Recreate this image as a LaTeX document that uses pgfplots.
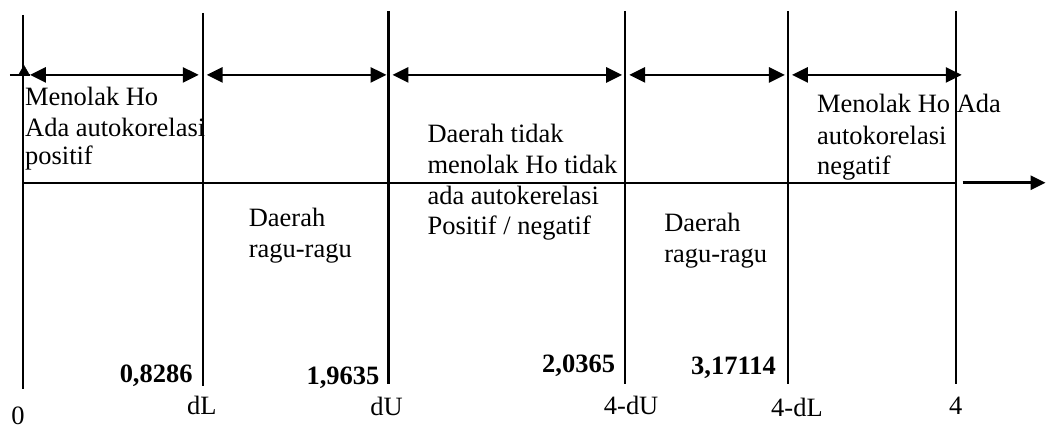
\documentclass[border=0pt]{standalone}
\usepackage{fontspec}
\setmainfont{Liberation Serif}
\usepackage{pgfplots}
\pgfplotsset{compat=1.18}
\usetikzlibrary{arrows.meta}
\begin{document}
\begin{tikzpicture}[
  txt/.style={anchor=base west, inner sep=0pt, font=\fontsize{26.5}{31}\selectfont},
  num/.style={anchor=base east, inner sep=0pt, font=\fontsize{26.5}{31}\selectfont\bfseries},
  lab/.style={anchor=base, inner sep=0pt, font=\fontsize{26.5}{31}\selectfont},
  dbl/.style={black, line width=2.8pt, {Triangle[length=16pt,width=15pt]}-{Triangle[length=16pt,width=15pt]}}]
\begin{axis}[
  scale only axis, width=1047pt, height=429pt,
  xmin=0, xmax=1047, ymin=0, ymax=429, y dir=reverse,
  hide axis, clip=false]
\addplot[draw=none] coordinates {(0,0) (1047,429)};
% vertical boundary lines
\addplot[black, line width=2.2pt] coordinates {(23,15) (23,390)};
\addplot[black, line width=2.2pt] coordinates {(203,13) (203,387)};
\addplot[black, line width=2.2pt] coordinates {(389,11) (389,385)};
\addplot[black, line width=2.2pt] coordinates {(626,11) (626,385)};
\addplot[black, line width=2.2pt] coordinates {(789,11) (789,385)};
\addplot[black, line width=2.2pt] coordinates {(957,11) (957,385)};
% horizontal axis line
\addplot[black, line width=2.4pt] coordinates {(23,183) (957,183)};
\addplot[black, line width=2.8pt, -{Triangle[length=15pt,width=14pt]}] coordinates {(964,183) (1047,183)};
% double arrows
\addplot[black, line width=2.8pt] coordinates {(10,75) (30,75)};
\addplot[dbl] coordinates {(30,75) (199,75)};
\addplot[dbl] coordinates {(207,75) (387,75)};
\addplot[dbl] coordinates {(393,75) (623,75)};
\addplot[dbl] coordinates {(630,75) (786,75)};
\addplot[dbl] coordinates {(793,75) (963,75)};
\addplot[black, only marks, mark=triangle*, mark size=6.5pt] coordinates {(24,72)};
% region texts (one node per line, base = baseline)
\node[txt] at (axis cs:25,106) {Menolak Ho};
\node[txt] at (axis cs:25,137) {Ada autokorelasi};
\node[txt] at (axis cs:25,165) {positif};
\node[txt] at (axis cs:249,227) {Daerah};
\node[txt] at (axis cs:249,258) {ragu-ragu};
\node[txt] at (axis cs:428,143) {Daerah tidak};
\node[txt] at (axis cs:428,174) {menolak Ho tidak};
\node[txt] at (axis cs:428,205) {ada autokerelasi};
\node[txt] at (axis cs:428,235) {Positif / negatif};
\node[txt] at (axis cs:665,232) {Daerah};
\node[txt] at (axis cs:665,263) {ragu-ragu};
\node[txt] at (axis cs:818,113) {Menolak Ho Ada};
\node[txt] at (axis cs:818,145) {autokorelasi};
\node[txt] at (axis cs:818,175) {negatif};
% values
\node[num] at (axis cs:193,383) {0,8286};
\node[num] at (axis cs:380,385) {1,9635};
\node[num] at (axis cs:616,373) {2,0365};
\node[num] at (axis cs:777,375) {3,17114};
% bottom labels
\node[lab] at (axis cs:18,425) {0};
\node[lab] at (axis cs:202,415) {dL};
\node[lab] at (axis cs:387,416) {dU};
\node[lab] at (axis cs:632,415) {4-dU};
\node[lab] at (axis cs:798,417) {4-dL};
\node[lab] at (axis cs:957,415) {4};
\end{axis}
\end{tikzpicture}
\end{document}
